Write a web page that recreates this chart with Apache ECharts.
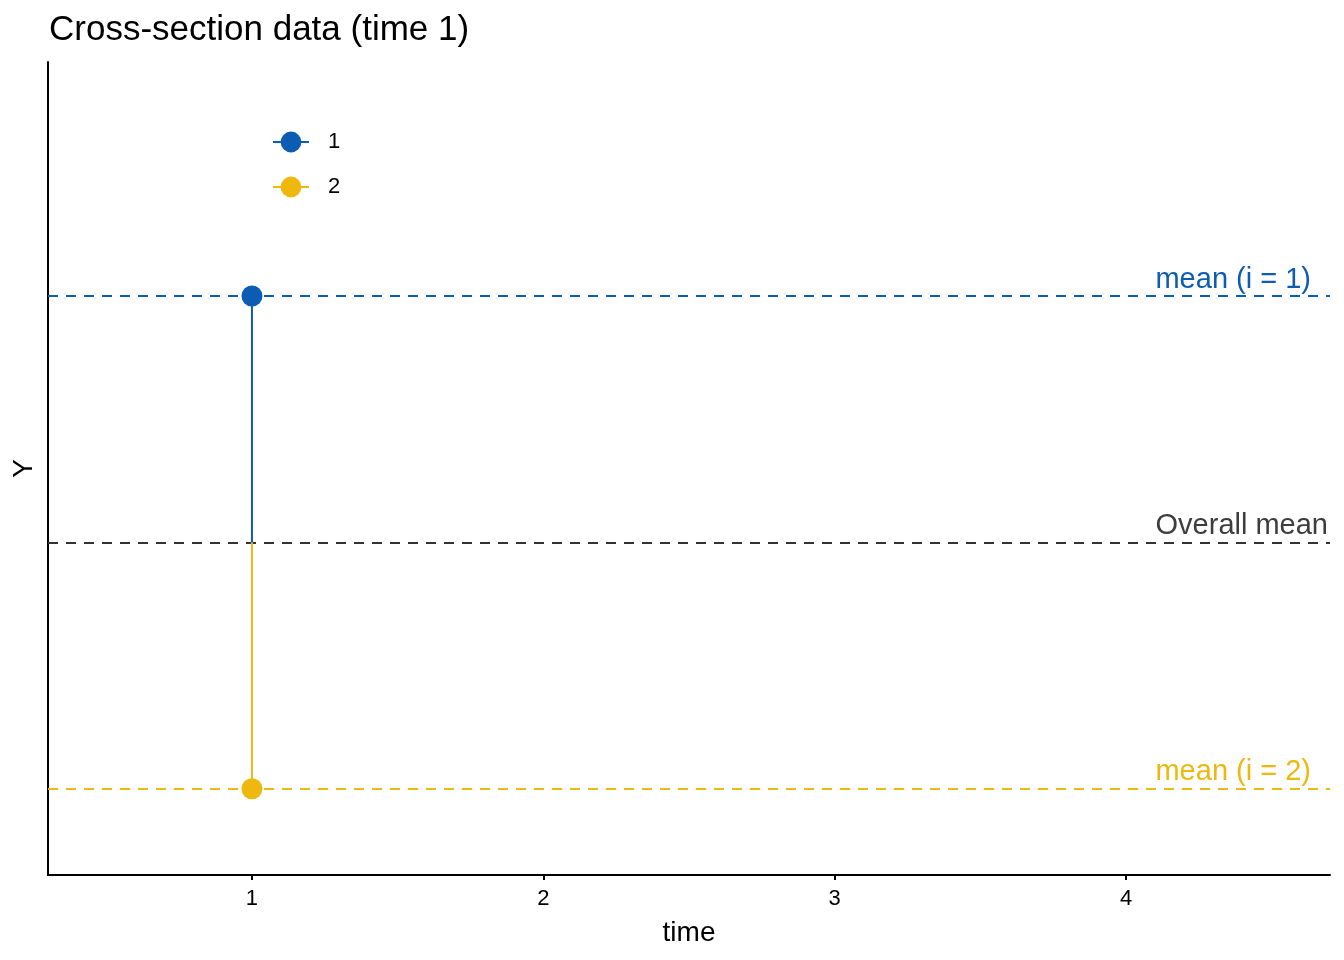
<!DOCTYPE html>
<html>
<head>
<meta charset="utf-8">
<script src="https://cdn.jsdelivr.net/npm/echarts@6/dist/echarts.min.js"></script>
<style>html,body{margin:0;padding:0;background:#fff}#c{width:1344px;height:960px}</style>
</head>
<body>
<div id="c"></div>
<script>
// Data
var groups = ['1', '2'];
var time = [1];
var yValues = [1, -1];          // Y at time 1 for i = 1, 2
var groupMeans = [1, -1];        // mean per individual
var overallMean = 0;
var xTicks = [1, 2, 3, 4];
var meanLabels = ['mean (i = 1)', 'mean (i = 2)'];
var overallLabel = 'Overall mean';

var colors = ['#0D5CB4', '#EEB80F'];
var FONT = 'Liberation Sans, Arial, Helvetica, sans-serif';

var chart = echarts.init(document.getElementById('c'), null, {renderer: 'canvas'});

function meanLine(val, text, color, textColor, endGap) {
  return {
    yAxis: val,
    lineStyle: {type: [10, 8], color: color, width: 2},
    label: {
      show: true,
      formatter: text,
      position: 'insideEndTop',
      color: textColor || color,
      fontSize: 29,
      fontFamily: FONT,
      distance: [endGap, 2]
    }
  };
}

var series = groups.map(function (g, i) {
  var lines = [meanLine(groupMeans[i], meanLabels[i], colors[i], null, 19)];
  if (i === 0) lines.push(meanLine(overallMean, overallLabel, '#333333', '#3D3D3D', 2));
  return {
    name: g,
    type: 'line',
    color: colors[i],
    symbol: 'circle',
    symbolSize: 21,
    lineStyle: {width: 2, color: colors[i]},
    itemStyle: {color: colors[i]},
    animation: false,
    z: 3,
    data: [
      {value: [time[0], yValues[i]]},
      {value: [time[0], overallMean], symbol: 'none'}
    ],
    markLine: {
      silent: true,
      symbol: ['none', 'none'],
      animation: false,
      z: 2,
      data: lines
    }
  };
});

chart.setOption({
  backgroundColor: '#fff',
  animation: false,
  textStyle: {fontFamily: FONT},
  title: {
    text: 'Cross-section data (time 1)',
    left: 44, top: 8,
    textStyle: {fontSize: 35, fontWeight: 'normal', color: '#000', fontFamily: FONT}
  },
  legend: {
    orient: 'vertical',
    left: 272, top: 131,
    padding: 0,
    itemWidth: 36, itemHeight: 26,
    itemGap: 23,
    textStyle: {fontSize: 22, color: '#000', fontFamily: FONT, padding: [0, 0, 0, 14]},
    data: groups
  },
  grid: {left: 48, right: 14, top: 62, bottom: 85, containLabel: false},
  xAxis: {
    type: 'value',
    min: 0.3, max: 4.7,
    name: 'time',
    nameLocation: 'middle',
    nameGap: 44,
    nameTextStyle: {fontSize: 28, color: '#000', fontFamily: FONT},
    axisLine: {show: true, onZero: false, lineStyle: {color: '#000', width: 2}},
    axisTick: {show: true, length: 5, customValues: xTicks, lineStyle: {color: '#000', width: 2}},
    axisLabel: {show: true, customValues: xTicks, fontSize: 22, color: '#000', margin: 13, fontFamily: FONT},
    splitLine: {show: false}
  },
  yAxis: {
    type: 'value',
    min: -1.35, max: 1.95,
    name: 'Y',
    nameLocation: 'middle',
    nameGap: 10,
    nameRotate: 90,
    nameTextStyle: {fontSize: 28, color: '#000', fontFamily: FONT},
    axisLine: {show: true, onZero: false, lineStyle: {color: '#000', width: 2}},
    axisTick: {show: false},
    axisLabel: {show: false},
    splitLine: {show: false}
  },
  series: series
});
</script>
</body>
</html>
